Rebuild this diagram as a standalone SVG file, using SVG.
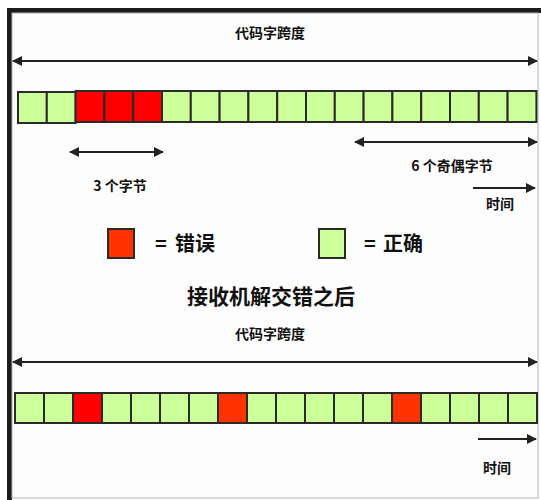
<svg xmlns="http://www.w3.org/2000/svg" width="541" height="500" viewBox="0 0 541 500">
<style>
  text { font-family: "Noto Sans CJK SC", "Liberation Sans", sans-serif; font-weight: bold; fill: #111; }
  .t14 { font-size: 14px; }
  .t18 { font-size: 20px; }
  .t20 { font-size: 21px; }
  .g { fill: #ccff99; stroke: #2a2a2a; stroke-width: 2; }
  .r { fill: #ff0000; stroke: #2a2a2a; stroke-width: 2; }
  .o { fill: #ff3300; stroke: #2a2a2a; stroke-width: 2; }
  .ln { stroke: #222; stroke-width: 2; fill: none; }
</style>
<defs>
  <marker id="ah" viewBox="0 0 10 10" refX="9" refY="5" markerWidth="5" markerHeight="5" orient="auto-start-reverse" markerUnits="strokeWidth">
    <path d="M0,0 L10,5 L0,10 z" fill="#222"/>
  </marker>
</defs>
<rect x="0" y="0" width="541" height="500" fill="#ffffff"/>
<rect x="7" y="8" width="534" height="5" fill="#1c1c1c"/>
<rect x="7" y="8" width="5" height="492" fill="#1c1c1c"/>
<rect x="12" y="13" width="526" height="485" fill="#fdfdfd" stroke="#b0b0b0" stroke-width="1"/>

<g id="connectors">
  <line class="ln" x1="13" y1="61" x2="537" y2="61" marker-start="url(#ah)" marker-end="url(#ah)"/>
  <line class="ln" x1="70" y1="152" x2="163" y2="152" marker-start="url(#ah)" marker-end="url(#ah)"/>
  <line class="ln" x1="355" y1="142" x2="537" y2="142" marker-start="url(#ah)" marker-end="url(#ah)"/>
  <line class="ln" x1="473" y1="188" x2="535" y2="188" marker-end="url(#ah)"/>
  <line class="ln" x1="13" y1="362" x2="537" y2="362" marker-start="url(#ah)" marker-end="url(#ah)"/>
  <line class="ln" x1="478" y1="439" x2="536" y2="439" marker-end="url(#ah)"/>
</g>

<g id="top-labels">
  <text class="t14" x="270" y="38" text-anchor="middle">代码字跨度</text>
  <text class="t14" x="120" y="191" text-anchor="middle">3 个字节</text>
  <text class="t14" x="452" y="171" text-anchor="middle">6 个奇偶字节</text>
  <text class="t14" x="500" y="209" text-anchor="middle">时间</text>
</g>

<g id="top-bar">
  <rect class="g" x="18" y="92" width="28.8" height="31"/>
  <rect class="g" x="46.8" y="92" width="28.8" height="31"/>
  <rect class="r" x="75.6" y="91" width="28.8" height="31"/>
  <rect class="r" x="104.4" y="91" width="28.8" height="31"/>
  <rect class="r" x="133.2" y="91" width="28.8" height="31"/>
  <rect class="g" x="162" y="91" width="28.8" height="31"/>
  <rect class="g" x="190.8" y="91" width="28.8" height="31"/>
  <rect class="g" x="219.6" y="91" width="28.8" height="31"/>
  <rect class="g" x="248.4" y="91" width="28.8" height="31"/>
  <rect class="g" x="277.2" y="91" width="28.8" height="31"/>
  <rect class="g" x="306" y="91" width="28.8" height="31"/>
  <rect class="g" x="334.8" y="91" width="28.8" height="31"/>
  <rect class="g" x="363.6" y="91" width="28.8" height="31"/>
  <rect class="g" x="392.4" y="91" width="28.8" height="31"/>
  <rect class="g" x="421.2" y="91" width="28.8" height="31"/>
  <rect class="g" x="450" y="91" width="28.8" height="31"/>
  <rect class="g" x="478.8" y="91" width="28.8" height="31"/>
  <rect class="g" x="507.6" y="91" width="28.8" height="31"/>
</g>

<g id="legend-error">
  <rect class="o" x="108" y="229" width="26" height="29"/>
  <text class="t18" x="155" y="251">=</text>
  <text class="t18" x="175" y="251">错误</text>
</g>
<g id="legend-correct">
  <rect class="g" x="319" y="229" width="26" height="29"/>
  <text class="t18" x="364" y="251">=</text>
  <text class="t18" x="383" y="251">正确</text>
</g>

<g id="title-after">
  <text class="t20" x="271" y="304" text-anchor="middle">接收机解交错之后</text>
  <text class="t14" x="270" y="339" text-anchor="middle">代码字跨度</text>
</g>

<g id="bottom-bar">
  <rect class="g" x="15" y="393" width="29" height="30"/>
  <rect class="g" x="44" y="393" width="29" height="30"/>
  <rect class="r" x="73" y="393" width="29" height="30"/>
  <rect class="g" x="102" y="393" width="29" height="30"/>
  <rect class="g" x="131" y="393" width="29" height="30"/>
  <rect class="g" x="160" y="393" width="29" height="30"/>
  <rect class="g" x="189" y="393" width="29" height="30"/>
  <rect class="o" x="218" y="393" width="29" height="30"/>
  <rect class="g" x="247" y="393" width="29" height="30"/>
  <rect class="g" x="276" y="393" width="29" height="30"/>
  <rect class="g" x="305" y="393" width="29" height="30"/>
  <rect class="g" x="334" y="393" width="29" height="30"/>
  <rect class="g" x="363" y="393" width="29" height="30"/>
  <rect class="o" x="392" y="393" width="29" height="30"/>
  <rect class="g" x="421" y="393" width="29" height="30"/>
  <rect class="g" x="450" y="393" width="29" height="30"/>
  <rect class="g" x="479" y="393" width="29" height="30"/>
  <rect class="g" x="508" y="393" width="29" height="30"/>
</g>

<g id="bottom-labels">
  <text class="t14" x="497" y="473" text-anchor="middle">时间</text>
</g>
</svg>
